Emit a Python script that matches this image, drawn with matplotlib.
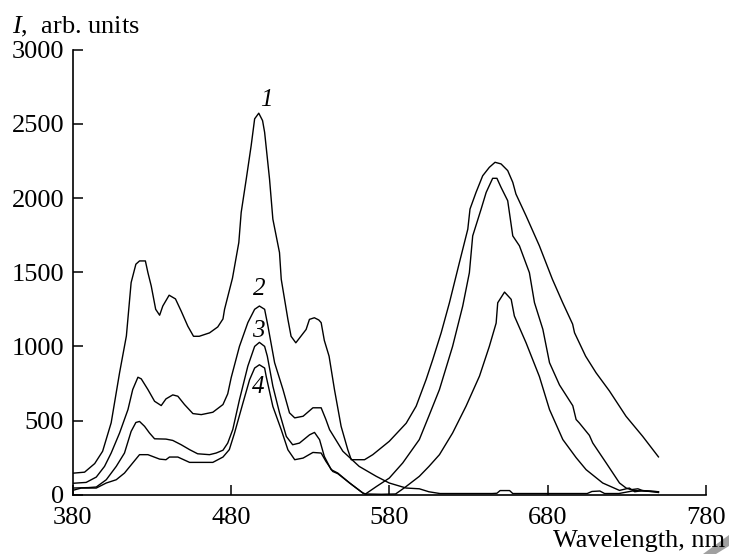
import numpy as np
import matplotlib.pyplot as plt
from matplotlib.patches import Polygon

plt.rcParams['font.family'] = ['Liberation Serif', 'DejaVu Serif']
plt.rcParams['mathtext.fontset'] = 'custom'
plt.rcParams['mathtext.it'] = 'Liberation Serif:italic'
plt.rcParams['mathtext.rm'] = 'Liberation Serif'

# curve 1
wl1 = [380, 387.6, 394, 399, 404.4, 409.7, 414, 417, 420, 422.3, 426, 427.6, 429.7, 432.5, 435, 437,
       441, 445, 448.6, 452.8, 456.4, 460, 466.5, 471.7, 475, 476, 481, 485, 486.5, 489.7, 492.8, 495,
       497.6, 500, 501.3, 504.4, 506.5, 510.7, 511.8, 516, 518, 521, 527.5, 529.6, 532.7, 535.5, 537,
       539, 542, 545.4, 549.6, 553.8, 556, 564.4, 569.6, 580, 590.7, 597, 603.3, 607.5, 612.8, 618,
       624.3, 629.6, 631, 634.8, 639, 643.2, 646.8, 650.6, 654.8, 658, 660, 666.4, 674.8, 683, 689.5,
       695.8, 697, 704, 710.6, 719, 729.5, 740, 750]
i1 = [145, 152, 210, 293, 485, 822, 1070, 1430, 1554, 1576, 1576, 1497, 1407, 1250, 1210, 1272,
      1345, 1320, 1238, 1136, 1068, 1068, 1091, 1131, 1185, 1250, 1460, 1700, 1903, 2128, 2353, 2534,
      2572, 2522, 2443, 2128, 1858, 1632, 1452, 1182, 1068, 1024, 1114, 1182, 1193, 1178, 1160,
      1040, 934, 709, 461, 304, 236, 236, 270, 360, 482, 597, 777, 912, 1092, 1294,
      1565, 1790, 1926, 2038, 2150, 2207, 2241, 2230, 2185, 2106, 2027, 1880, 1678, 1453, 1295,
      1150, 1092, 934, 822, 700, 529, 394, 255]

# curve 2
wl2 = [380, 388.6, 395, 400.2, 404.4, 409.7, 415, 418, 421.3, 423.4, 427.6, 431.8, 436, 439, 443.3,
       446.5, 450.7, 456, 461.3, 468.6, 475, 478, 480.2, 485.4, 490.7, 495, 498, 501.3, 503.4, 507.6,
       512.9, 517, 520.3, 525.6, 531.8, 537, 540, 542.3, 550.7, 561, 571.8, 580, 590.7, 599, 605, 612,
       645, 648, 650, 656, 658, 705, 708, 713, 716, 725, 730, 735, 740, 745, 750]
i2 = [77, 83, 119, 191, 281, 416, 574, 709, 792, 781, 709, 630, 601, 646, 673,
      664, 608, 547, 540, 556, 608, 680, 790, 1000, 1160, 1250, 1272, 1250, 1137, 890,
      709, 552, 518, 529, 586, 586, 507, 439, 293, 191, 124, 79, 45, 40, 20, 8,
      8, 10, 28, 28, 8, 8, 22, 25, 8, 8, 18, 28, 25, 22, 20]

# curve 3
wl3 = [380, 390, 395, 401.3, 407.6, 412.8, 417, 420, 422.3, 425.5, 428.6, 431.8, 439, 443.3, 448.6,
       453.9, 459, 466.5, 470.7, 475, 478, 481.2, 485.4, 490.7, 495, 498, 501.3, 503, 506.5, 510.7,
       515, 519, 523.3, 529.7, 532.8, 536, 539, 543.3, 547.5, 555, 563.4, 565, 572, 580, 588.5, 599,
       605, 611.7, 620, 626.4, 630.6, 632.7, 638, 641.2, 645.3, 648, 650.6, 654.8, 658, 662.2, 668.5,
       671.7, 677, 681.2, 687.5, 695.9, 698, 700, 706.4, 708.5, 717, 725.4, 729.6, 732.7, 737, 740,
       745, 750]
i3 = [45, 48, 52, 101, 191, 281, 427, 487, 494, 461, 416, 377, 375, 366, 337,
      304, 276, 270, 281, 300, 348, 440, 640, 867, 1000, 1027, 1000, 934, 732, 552,
      393, 337, 348, 404, 420, 371, 258, 169, 146, 79, 11, 5, 56, 112, 214, 372,
      530, 709, 1000, 1272, 1497, 1745, 1925, 2038, 2133, 2133, 2072, 1982, 1745, 1678, 1497,
      1295, 1115, 890, 740, 600, 507, 484, 400, 349, 214, 79, 45, 34, 40, 28,
      25, 20]

# curve 4
wl4 = [380, 385.5, 395, 401.3, 407.6, 412.8, 418, 422.3, 427.6, 435, 439, 441.2, 446.5, 453.9, 468.6,
       475, 479, 482.3, 487.6, 491.8, 495, 498, 501.3, 502.3, 506.5, 511.8, 516, 520.3, 525.6, 531.8,
       537, 540, 544.3, 547.5, 555, 563.4, 565, 575, 584, 590, 599, 605, 611.7, 620, 628.5, 637, 643.2,
       647.5, 648.5, 652.8, 657, 659, 666.4, 674.8, 681.2, 689.6, 698, 704.3, 714.8, 725.4, 731.6, 735,
       740, 745, 750]
i4 = [29, 45, 45, 79, 101, 146, 214, 270, 270, 240, 236, 254, 254, 218, 218,
      254, 304, 416, 618, 775, 854, 876, 854, 797, 595, 438, 303, 236, 247, 285,
      281, 225, 157, 142, 79, 11, 5, 3, 5, 50, 124, 190, 270, 416, 597, 800, 1000,
      1157, 1294, 1366, 1317, 1205, 1024, 797, 574, 372, 250, 169, 79, 29, 45, 20,
      28, 22, 15]

labels = ['1', '2', '3', '4']
label_x = [502.5, 498, 497.5, 497]
label_y = [2660, 1385, 1105, 725]

fig = plt.figure(figsize=(7.29, 5.54), dpi=100)
ax = fig.add_axes([0.0995, 0.107, 0.8689, 0.8033])

for wl, inten in [(wl1, i1), (wl2, i2), (wl3, i3), (wl4, i4)]:
    ax.plot(wl, inten, color='black', lw=1.0, solid_joinstyle='round')

for s, x, y in zip(labels, label_x, label_y):
    ax.text(x, y, s, fontsize=18, style='italic', ha='center', va='center')

ax.set_xlim(380, 780)
ax.set_ylim(0, 3000)
ax.set_xticks([380, 480, 580, 680, 780])
ax.set_yticks(np.arange(0, 3001, 500))
ax.spines['top'].set_visible(False)
ax.spines['right'].set_visible(False)
ax.spines['left'].set_linewidth(1.2)
ax.spines['bottom'].set_linewidth(1.2)
ax.tick_params(direction='in', length=7, width=1.1, labelsize=19)
ax.tick_params(axis='x', pad=9)
ax.tick_params(axis='y', pad=6)

fig.text(12 / 729, 1 - 33 / 554, '$I$,  arb. units', fontsize=19, ha='left', va='baseline')
fig.text(725 / 729, 1 - 547 / 554, 'Wavelength, nm', fontsize=19, ha='right', va='baseline')

# grey page-corner mark seen in the scan
corner = Polygon([(729 / 729, 1 - 535 / 554), (729 / 729, 1 - 546 / 554),
                  (716 / 729, 0), (703 / 729, 0)],
                 closed=True, transform=fig.transFigure, color='#a0a0a0', lw=0)
fig.patches.append(corner)

fig.savefig('out.png', dpi=100)
